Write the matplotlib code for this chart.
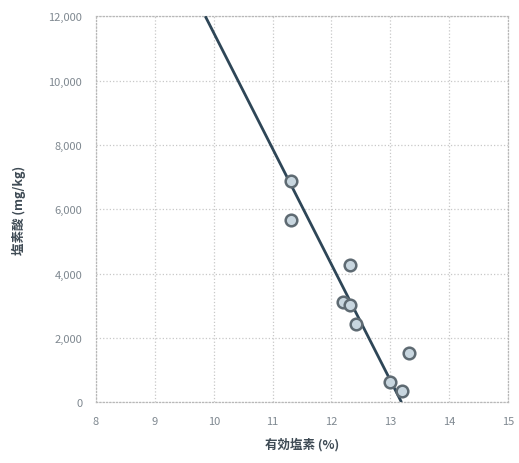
import numpy as np
import matplotlib.pyplot as plt

plt.rcParams['font.family'] = ['Noto Sans CJK JP', 'DejaVu Sans']

# data
chlorine = [11.32, 11.32, 12.32, 12.20, 12.31, 12.41, 13.31, 13.00, 13.20]
chlorate = [6870, 5660, 4260, 3110, 3015, 2425, 1525, 620, 340]

# trend line y = intercept + slope * x
slope = -3600.0
intercept = 47480.0

xticks = [8, 9, 10, 11, 12, 13, 14, 15]
yticks = [0, 2000, 4000, 6000, 8000, 10000, 12000]

fig = plt.figure(figsize=(5.19, 4.64), dpi=100)
ax = fig.add_axes([0.185, 0.131, 0.794, 0.832])

x_top = (yticks[-1] - intercept) / slope
x_zero = -intercept / slope
xl = np.array([x_top, x_zero])
ax.plot(xl, intercept + slope * xl, color='#2e4657', lw=2.0, zorder=3,
        solid_capstyle='butt')

ax.scatter(chlorine, chlorate, s=70, facecolor='#c8d6df', edgecolor='#5e6a72',
           linewidth=1.8, zorder=4)

ax.set_xlim(8, 15)
ax.set_ylim(0, 12000)
ax.set_xticks(xticks)
ax.set_yticks(yticks)
ax.set_yticklabels([f'{v:,}' for v in yticks])
ax.tick_params(length=0, labelsize=8, labelcolor='#7f8890', pad=10)
ax.grid(True, color='#c8c8c8', linestyle=':', linewidth=0.9)
for s in ax.spines.values():
    s.set_linestyle(':')
    s.set_color('#b8b8b8')
    s.set_linewidth(0.9)

ax.set_xlabel('有効塩素 (%)', fontsize=9, fontweight='bold', color='#3f4b55', labelpad=8)
ax.set_ylabel('塩素酸 (mg/kg)', fontsize=9, fontweight='bold', color='#3f4b55', labelpad=16)

fig.savefig('out.png', dpi=100)
